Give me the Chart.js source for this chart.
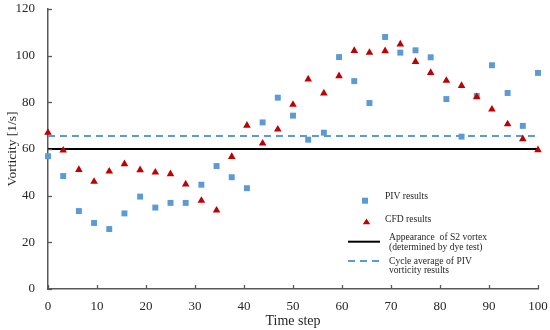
<!DOCTYPE html>
<html>
<head>
<meta charset="utf-8">
<script src="https://cdn.jsdelivr.net/npm/chart.js@4/dist/chart.umd.min.js"></script>
<style>
html,body{margin:0;padding:0;background:#fff;}
#wrap{width:550px;height:330px;position:relative;}
</style>
</head>
<body>
<div id="wrap"><canvas id="c" width="550" height="330"></canvas></div>
<script>
// ---- data ----
const timeSteps = [0,3.1,6.3,9.4,12.5,15.6,18.8,21.9,25,28.1,31.3,34.4,37.5,40.6,43.8,46.9,50,53.1,56.3,59.4,62.5,65.6,68.8,71.9,75,78.1,81.3,84.4,87.5,90.6,93.8,96.9,100];
const pivResults = [56.9,48.4,33.4,28.3,25.7,32.4,39.6,34.9,36.9,36.9,44.7,52.7,47.9,43.2,71.4,82.0,74.3,64.0,67.0,99.4,89.1,79.7,108.0,101.3,102.3,99.3,81.4,65.3,82.7,95.9,84.0,69.9,92.6];
const cfdResults = [67.0,59.4,51.1,46.0,50.4,53.6,51.0,50.0,49.3,44.9,37.9,33.7,56.7,70.1,62.4,68.4,79.0,89.9,83.9,91.3,102.1,101.3,102.0,104.9,97.4,92.7,89.3,87.1,82.3,77.0,70.7,64.3,59.6];
const s2Appearance = 60;
const pivCycleAverage = 65.6;
const xRange = [0, 100];
const xTicks = [0,10,20,30,40,50,60,70,80,90,100];
const yTicks = [0,20,40,60,80,100,120];
const legendLabels = [
  ["PIV results"],
  ["CFD results"],
  ["Appearance  of S2 vortex", "(determined by dye test)"],
  ["Cycle average of PIV", "vorticity results"]
];

const BLUE = '#5B9BD5';
const RED = '#C00000';
const AXIS = '#595959';
const TEXT = '#262626';
const FONT = "'Liberation Serif', 'DejaVu Serif', serif";

function pts(xs, ys){ return xs.map((x,i)=>({x:x, y:ys[i]})); }

const insideTicks = {
  id:'insideTicks',
  afterDraw(chart){
    const ctx = chart.ctx, xs = chart.scales.x, ys = chart.scales.y, a = chart.chartArea;
    ctx.save();
    ctx.strokeStyle = AXIS; ctx.lineWidth = 1.3;
    xTicks.forEach(v=>{
      const px = Math.round(xs.getPixelForValue(v))+0.5;
      ctx.beginPath(); ctx.moveTo(px, a.bottom); ctx.lineTo(px, a.bottom-4); ctx.stroke();
    });
    yTicks.forEach(v=>{
      const py = Math.round(ys.getPixelForValue(v))+0.5;
      ctx.beginPath(); ctx.moveTo(a.left, py); ctx.lineTo(a.left+4, py); ctx.stroke();
    });
    ctx.restore();
  }
};

const customLegend = {
  id:'customLegend',
  afterDraw(chart){
    const ctx = chart.ctx, a = chart.chartArea;
    const L = a.left + 300;
    const T = a.top;
    ctx.save();
    ctx.font = "9.6px " + FONT;
    ctx.textBaseline = 'middle';
    ctx.textAlign = 'left';
    // PIV square
    ctx.fillStyle = BLUE;
    ctx.fillRect(L+14, T+191.7-3, 6, 6);
    // CFD triangle
    const ty = T+212.7;
    ctx.fillStyle = RED;
    ctx.beginPath();
    ctx.moveTo(L+18.5, ty-3.3);
    ctx.lineTo(L+22.2, ty+2.5);
    ctx.lineTo(L+14.8, ty+2.5);
    ctx.closePath(); ctx.fill();
    // black line
    ctx.strokeStyle = '#000'; ctx.lineWidth = 2;
    ctx.beginPath(); ctx.moveTo(L, T+232.7); ctx.lineTo(L+32, T+232.7); ctx.stroke();
    // dashed line
    ctx.strokeStyle = BLUE; ctx.setLineDash([7,5]);
    ctx.beginPath(); ctx.moveTo(L, T+252); ctx.lineTo(L+32, T+252); ctx.stroke();
    ctx.setLineDash([]);
    ctx.fillStyle = TEXT;
    ctx.fillText(legendLabels[0][0], L+37, T+187);
    ctx.fillText(legendLabels[1][0], L+37, T+210);
    ctx.fillText(legendLabels[2][0], L+41, T+228.3);
    ctx.fillText(legendLabels[2][1], L+41, T+238.7);
    ctx.fillText(legendLabels[3][0], L+41, T+252.3);
    ctx.fillText(legendLabels[3][1], L+41, T+261.7);
    ctx.restore();
  }
};

new Chart(document.getElementById('c'), {
  type:'scatter',
  data:{
    datasets:[
      {label:'Cycle average of PIV vorticity results', type:'line', data:pts(xRange,[pivCycleAverage,pivCycleAverage]),
       borderColor:BLUE, borderWidth:2, borderDash:[7,5], pointRadius:0, fill:false, order:3, clip:false},
      {label:'Appearance of S2 vortex', type:'line', data:pts(xRange,[s2Appearance,s2Appearance]),
       borderColor:'#000', borderWidth:2, pointRadius:0, fill:false, order:2, clip:false},
      {label:'PIV results', data:pts(timeSteps,pivResults), pointStyle:'rect', pointRadius:4.2,
       backgroundColor:BLUE, borderColor:BLUE, borderWidth:0, order:1, clip:false},
      {label:'CFD results', data:pts(timeSteps,cfdResults), pointStyle:'triangle', pointRadius:4.4,
       backgroundColor:RED, borderColor:RED, borderWidth:0, order:0, clip:false}
    ]
  },
  options:{
    responsive:false, animation:false, devicePixelRatio:1,
    layout:{padding:{left:0,right:12,top:9,bottom:0}},
    plugins:{legend:{display:false}, tooltip:{enabled:false}},
    scales:{
      x:{type:'linear', min:0, max:100,
         afterBuildTicks(s){ s.ticks = xTicks.map(v=>({value:v})); },
         afterFit(s){ s.height = 41; s.paddingLeft = 0; s.paddingRight = 0; },
         grid:{display:false, drawTicks:false}, border:{display:true, color:AXIS, width:1.5},
         ticks:{color:TEXT, font:{family:FONT, size:13}, padding:10, maxRotation:0},
         title:{display:true, text:'Time step', color:TEXT, font:{family:FONT, size:14}, padding:{top:-8,bottom:0}}},
      y:{type:'linear', min:0, max:120,
         afterBuildTicks(s){ s.ticks = yTicks.map(v=>({value:v})); },
         afterFit(s){ s.width = 48; s.paddingTop = 0; s.paddingBottom = 0; },
         grid:{display:false, drawTicks:false}, border:{display:true, color:AXIS, width:1.5},
         ticks:{color:TEXT, font:{family:FONT, size:13}, padding:13},
         title:{display:true, text:'Vorticity [1/s]', color:TEXT, font:{family:FONT, size:13.5}, padding:{top:4,bottom:0}}}
    }
  },
  plugins:[insideTicks, customLegend]
});
</script>
</body>
</html>
